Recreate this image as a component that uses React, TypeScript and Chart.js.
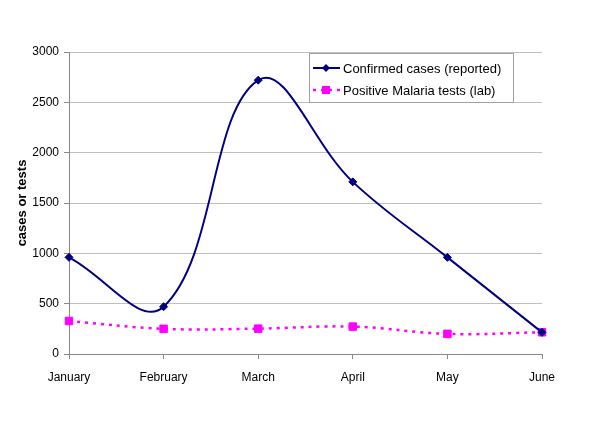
import React, { useEffect, useRef } from "react";
import { Chart, registerables } from "chart.js";

Chart.register(...registerables);

const months = ["January", "February", "March", "April", "May", "June"];
const confirmedCases = [960, 470, 2720, 1710, 960, 215];
const positiveTests = [328, 250, 252, 272, 200, 216];
const seriesLabels = ["Confirmed cases (reported)", "Positive Malaria tests (lab)"];
const yTitle = "cases or tests";

const FONT = "'Liberation Sans', Arial, sans-serif";

const legendPlugin = {
  id: "boxLegend",
  afterDraw(chart: any) {
    const ctx = chart.ctx;
    const x0 = 309, y0 = 53, w = 204, h = 49;
    ctx.save();
    ctx.fillStyle = "#ffffff";
    ctx.fillRect(x0, y0, w, h);
    ctx.strokeStyle = "#a0a0a0";
    ctx.lineWidth = 1;
    ctx.strokeRect(x0 + 0.5, y0 + 0.5, w, h);
    const rows = [y0 + 15, y0 + 37];
    chart.data.datasets.forEach((ds: any, i: number) => {
      const y = rows[i];
      ctx.strokeStyle = ds.borderColor;
      ctx.lineWidth = ds.borderWidth;
      ctx.setLineDash(ds.borderDash || []);
      ctx.beginPath();
      ctx.moveTo(313, y);
      ctx.lineTo(340, y);
      ctx.stroke();
      ctx.setLineDash([]);
      ctx.fillStyle = ds.pointBackgroundColor;
      if (ds.pointStyle === "rectRot") {
        ctx.beginPath();
        ctx.moveTo(326, y - 4);
        ctx.lineTo(330, y);
        ctx.lineTo(326, y + 4);
        ctx.lineTo(322, y);
        ctx.closePath();
        ctx.fill();
      } else {
        ctx.fillRect(322, y - 4, 8, 8);
      }
      ctx.fillStyle = "#000000";
      ctx.font = `13px ${FONT}`;
      ctx.textBaseline = "middle";
      ctx.textAlign = "left";
      ctx.fillText(ds.label, 343, y + 1);
    });
    ctx.restore();
  },
};

export default function App() {
  const ref = useRef<HTMLCanvasElement | null>(null);
  useEffect(() => {
    document.body.style.margin = "0";
    const chart = new Chart(ref.current!, {
      type: "line",
      data: {
        labels: months,
        datasets: [
          {
            label: seriesLabels[0],
            data: confirmedCases,
            borderColor: "#000080",
            backgroundColor: "#000080",
            pointBackgroundColor: "#000080",
            pointBorderColor: "#000080",
            borderWidth: 2,
            pointStyle: "rectRot",
            pointRadius: 4,
            pointBorderWidth: 1,
            tension: 0.4,
            fill: false,
          },
          {
            label: seriesLabels[1],
            data: positiveTests,
            borderColor: "#ff00ff",
            backgroundColor: "#ff00ff",
            pointBackgroundColor: "#ff00ff",
            pointBorderColor: "#ff00ff",
            borderWidth: 2.5,
            borderDash: [3, 5],
            pointStyle: "rect",
            pointRadius: 5.3,
            pointBorderWidth: 1,
            tension: 0.4,
            fill: false,
          },
        ],
      },
      options: {
        responsive: false,
        animation: false,
        layout: { padding: { left: 0, right: 58, top: 52, bottom: 0 } },
        plugins: {
          legend: { display: false },
          tooltip: { enabled: false },
        },
        scales: {
          x: {
            offset: false,
            grid: {
              drawOnChartArea: false,
              drawTicks: true,
              tickLength: 5,
              tickColor: "#888888",
            },
            border: { color: "#888888", width: 1 },
            ticks: {
              color: "#000000",
              font: { family: FONT, size: 12 },
              padding: 11,
              maxRotation: 0,
              autoSkip: false,
            },
            afterFit: (s: any) => {
              s.height = 432 - 354;
            },
          },
          y: {
            min: 0,
            max: 3000,
            ticks: {
              stepSize: 500,
              color: "#000000",
              font: { family: FONT, size: 12 },
              padding: 5,
              callback: (v: any) => String(v),
            },
            grid: {
              color: "#c0c0c0",
              tickColor: "#888888",
              tickLength: 5,
            },
            border: { color: "#888888", width: 1 },
            title: {
              display: true,
              text: yTitle,
              color: "#000000",
              font: { family: FONT, size: 13, weight: "bold" },
              padding: { top: 15, bottom: 4 },
            },
            afterFit: (s: any) => {
              s.width = 69;
            },
          },
        },
      },
      plugins: [legendPlugin],
    });
    return () => chart.destroy();
  }, []);
  return (
    <div style={{ position: "absolute", left: 0, top: 0, width: 600, height: 432, background: "#fff" }}>
      <canvas ref={ref} width={600} height={432} />
    </div>
  );
}
